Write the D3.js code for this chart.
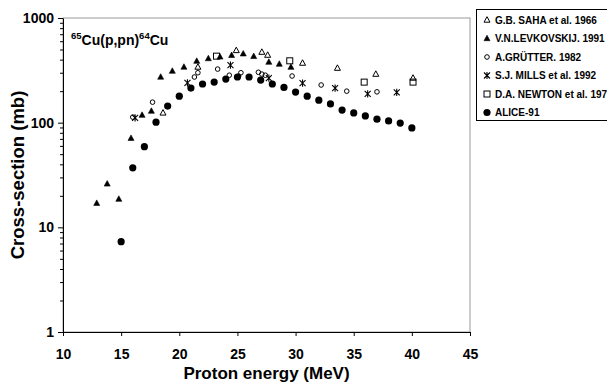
<!DOCTYPE html>
<html>
<head>
<meta charset="utf-8">
<script src="https://cdn.jsdelivr.net/npm/d3@7"></script>
<style>
  body { margin: 0; background: #fff; }
  text { font-family: "Liberation Sans", Arial, sans-serif; font-weight: bold; }
</style>
</head>
<body>
<div id="chart"></div>
<script>
const width = 607;
const height = 385;
const margin = { top: 18, right: 137, bottom: 53, left: 63 };

// Data: [energy MeV, cross-section mb]
const saha = [[18.6, 124], [21.6, 340], [24.9, 490], [27.1, 472], [27.6, 442], [30.6, 371], [33.6, 332], [36.9, 291], [40.1, 267]];
const levkovskij = [[12.9, 17], [13.8, 26], [14.8, 18.6], [15.85, 71], [16.8, 118], [17.6, 129], [18.4, 273], [19.4, 311], [20.4, 340], [21.5, 387],
  [22.5, 410], [23.5, 425], [24.5, 440], [25.5, 455], [26.4, 430], [27.7, 379], [28.6, 363], [29.6, 339]];
const grutter = [[16.0, 113], [17.7, 157], [21.3, 273], [21.6, 300], [23.3, 325], [24.3, 284], [25.1, 278], [25.3, 300],
  [26.8, 303], [27.1, 291], [27.4, 284], [29.7, 279], [32.2, 229], [34.4, 200], [37.0, 197]];
const mills = [[16.2, 111], [20.7, 240], [24.4, 355], [27.7, 267], [30.6, 239], [33.4, 214], [36.2, 188], [38.7, 195]];
const newton = [[23.2, 432], [29.5, 390], [35.9, 244], [40.1, 244]];
const alice = [[15, 7.3], [16, 37], [17, 59], [18, 101], [19, 144], [20, 179], [21, 214], [22, 234], [23, 244], [24, 261],
  [25, 273], [26, 273], [27, 255], [28, 234], [29, 217], [30, 196], [31, 179], [32, 164], [33, 151], [34, 132],
  [35, 124], [36, 116], [37, 108], [38, 104], [39, 99], [40, 89]];

const xTicks = [10, 15, 20, 25, 30, 35, 40, 45];
const yTicks = [1, 10, 100, 1000];
const yMinor = [2, 3, 4, 5, 6, 7, 8, 9, 20, 30, 40, 50, 60, 70, 80, 90, 200, 300, 400, 500, 600, 700, 800, 900];

// legend names as printed (the last one is cut short in the original)
const series = [
  { name: "G.B. SAHA et al. 1966", data: saha, marker: "tri", fill: "none" },
  { name: "V.N.LEVKOVSKIJ. 1991", data: levkovskij, marker: "tri", fill: "#000" },
  { name: "A.GRÜTTER. 1982", data: grutter, marker: "circ", fill: "none" },
  { name: "S.J. MILLS et al. 1992", data: mills, marker: "star", fill: "none" },
  { name: "D.A. NEWTON et al. 197", data: newton, marker: "sq", fill: "none" },
  { name: "ALICE-91", data: alice, marker: "dot", fill: "#000" },
];

const svg = d3.select("#chart").append("svg")
  .attr("width", width)
  .attr("height", height);

const x = d3.scaleLinear().domain([10, 45]).range([margin.left, width - margin.right]);
const y = d3.scaleLog().domain([1, 1000]).range([height - margin.bottom, margin.top]);

// plot frame
svg.append("rect")
  .attr("x", x(10)).attr("y", y(1000))
  .attr("width", x(45) - x(10)).attr("height", y(1) - y(1000))
  .attr("fill", "none").attr("stroke", "#999").attr("stroke-width", 1);

// minor y ticks
svg.append("g")
  .attr("transform", `translate(${x(10)},0)`)
  .call(d3.axisLeft(y).tickValues(yMinor).tickSize(3).tickFormat(""))
  .call((g) => g.select(".domain").remove());

svg.append("g")
  .attr("transform", `translate(${x(10)},0)`)
  .call(d3.axisLeft(y).tickValues(yTicks).tickSize(5).tickSizeOuter(0).tickFormat(d3.format("d")))
  .call((g) => g.selectAll("text").attr("font-size", 14).attr("x", -9));

svg.append("g")
  .attr("transform", `translate(0,${y(1)})`)
  .call(d3.axisBottom(x).tickValues(xTicks).tickSize(4).tickSizeOuter(0))
  .call((g) => g.selectAll("text").attr("font-size", 14).attr("dy", "1.45em"));

svg.selectAll(".domain").attr("stroke", "#000");

// axis titles
svg.append("text")
  .attr("x", (x(10) + x(45)) / 2).attr("y", 379)
  .attr("text-anchor", "middle").attr("font-size", 17)
  .text("Proton energy (MeV)");

svg.append("text")
  .attr("transform", `translate(24,${(y(1) + y(1000)) / 2}) rotate(-90)`)
  .attr("text-anchor", "middle").attr("font-size", 18.5)
  .text("Cross-section (mb)");

// reaction label
const lab = svg.append("text").attr("x", 71).attr("y", 45).attr("font-size", 14);
lab.append("tspan").attr("font-size", 9.5).attr("dy", -6).text("65");
lab.append("tspan").attr("dy", 6).text("Cu(p,pn)");
lab.append("tspan").attr("font-size", 9.5).attr("dy", -6).text("64");
lab.append("tspan").attr("dy", 6).text("Cu");

function drawMarker(sel, m, fill) {
  if (m === "dot") {
    sel.append("circle").attr("r", 3.6).attr("fill", "#000");
  } else if (m === "circ") {
    sel.append("circle").attr("r", 2.3).attr("fill", "none").attr("stroke", "#000").attr("stroke-width", 1);
  } else if (m === "tri") {
    sel.append("path").attr("d", "M0,-3.3L3,2.2L-3,2.2Z")
      .attr("fill", fill).attr("stroke", "#000").attr("stroke-width", fill === "none" ? 1 : 0.6);
  } else if (m === "sq") {
    sel.append("rect").attr("x", -3).attr("y", -3).attr("width", 6).attr("height", 6)
      .attr("fill", "none").attr("stroke", "#000").attr("stroke-width", 1);
  } else if (m === "star") {
    sel.append("path").attr("d", "M-3,-3L3,3M3,-3L-3,3M0,-3.6V3.6")
      .attr("fill", "none").attr("stroke", "#000").attr("stroke-width", 1.1);
  }
}

series.forEach((s) => {
  svg.append("g").selectAll("g")
    .data(s.data)
    .enter()
    .append("g")
    .attr("transform", (d) => `translate(${x(d[0])},${y(d[1])})`)
    .each(function () { drawMarker(d3.select(this), s.marker, s.fill); });
});

// legend
const lg = svg.append("g");
lg.append("rect")
  .attr("x", 476.5).attr("y", 9.5).attr("width", 140).attr("height", 111)
  .attr("fill", "#fff").attr("stroke", "#000").attr("stroke-width", 1);

series.forEach((s, i) => {
  const row = lg.append("g").attr("transform", `translate(487,${20 + i * 18.5})`);
  drawMarker(row.append("g"), s.marker, s.fill);
  row.append("text").attr("x", 8).attr("y", 3.5).attr("font-size", 10).text(s.name);
});
</script>
</body>
</html>
